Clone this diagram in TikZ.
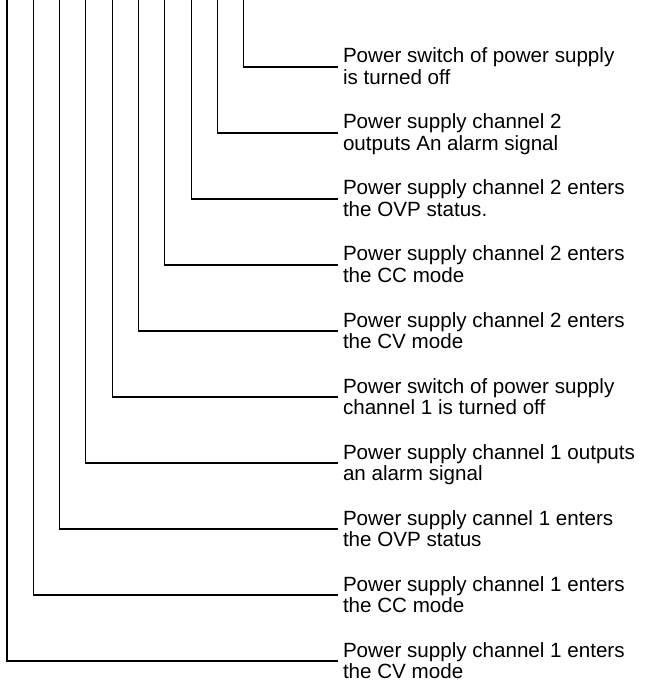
\documentclass[tikz,border=0pt]{standalone}
\usepackage{fontspec}
\setmainfont{Liberation Sans}
\begin{document}
\begin{tikzpicture}[x=1pt,y=-1pt,
  wire/.style={draw=black,line width=1.1pt},
  lab/.style={anchor=base west,inner sep=0pt,outer sep=0pt,font=\fontsize{20.6}{21.6}\selectfont}]
\useasboundingbox (0,0) rectangle (645,684);
\foreach \i/\la/\lb in {
  0/Power supply channel 1 enters/the CV mode,
  1/Power supply channel 1 enters/the CC mode,
  2/Power supply cannel 1 enters/the OVP status,
  3/Power supply channel 1 outputs/an alarm signal,
  4/Power switch of power supply/channel 1 is turned off,
  5/Power supply channel 2 enters/the CV mode,
  6/Power supply channel 2 enters/the CC mode,
  7/Power supply channel 2 enters/the OVP status.,
  8/Power supply channel 2/outputs An alarm signal,
  9/Power switch of power supply/is turned off}{
  \pgfmathsetmacro{\xx}{7+26.3*\i}
  \pgfmathsetmacro{\yy}{661-66*\i}
  \coordinate (t\i) at (\xx,0);
  \coordinate (e\i) at (338,\yy);
  \node[lab] (l\i) at (343,\yy-4) {\begin{tabular}[t]{@{}l@{}}\la\\\lb\end{tabular}};
  \draw[wire] (t\i) |- (e\i);
}
\end{tikzpicture}
\end{document}
